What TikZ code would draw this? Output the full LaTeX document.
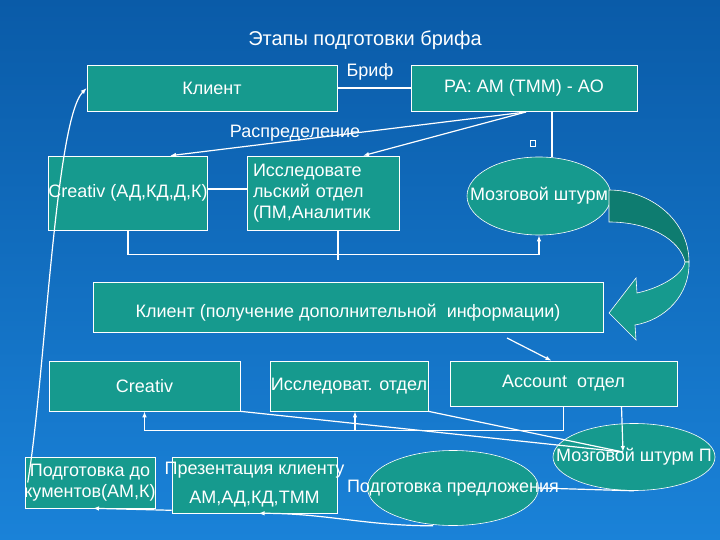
\documentclass[tikz,border=0pt]{standalone}
\usepackage{fontspec}
\setmainfont{Liberation Sans}
\usepackage{xcolor}
\usepackage{tikz}
\usetikzlibrary{arrows.meta, positioning, shapes.geometric}

\definecolor{bgtop}{RGB}{10,91,168}
\definecolor{bgbot}{RGB}{26,130,216}
\definecolor{boxteal}{RGB}{22,154,142}
\definecolor{darkteal}{RGB}{14,124,112}

\begin{document}
\begin{tikzpicture}[
    x=1pt, y=-1pt,
    every node/.style={text=white, inner sep=0pt, font=\fontsize{18}{21}\selectfont},
    tealbox/.style={draw=white, fill=boxteal, line width=0.6pt},
    oval/.style={ellipse, draw=white, fill=boxteal, line width=0.6pt},
    wire/.style={white, line width=1.2pt},
    >={Latex[length=6pt, width=4.5pt]},
]
\shade[top color=bgtop, bottom color=bgbot] (0,0) rectangle (720,540);

\node[font=\fontsize{20}{24}\selectfont] (title) at (365,40) {Этапы подготовки брифа};

\node[tealbox, minimum width=250, minimum height=46] (client) at (212,88) {Клиент};
\node[tealbox, minimum width=226, minimum height=46] (pa) at (524,88) {PA: AM (TMM) - AO};
\node (brief) at (370,72) {Бриф};
\node (distr) at (295,133) {Распределение};
\node[draw=white, line width=0.6pt, minimum width=5, minimum height=6] (mark) at (533,143) {};

\node[tealbox, minimum width=158, minimum height=74] (creat1) at (128,193) {Creativ (АД,КД,Д,К)};
\node[tealbox, minimum width=152, minimum height=74, text width=140, align=left] (research1) at (323,193)
    {Исследовате\\льский отдел\\(ПМ,Аналитик};
\node[oval, minimum width=144, minimum height=78, label=center:{Мозговой штурм}] (brain1) at (539,196) {};

\node[tealbox, minimum width=510, minimum height=50,
      label={[yshift=-6pt]center:{Клиент (получение дополнительной~ информации)}}] (client2) at (348,307) {};

\node[tealbox, minimum width=191, minimum height=50] (creat2) at (144.5,386) {Creativ};
\node[tealbox, minimum width=158, minimum height=50] (research2) at (349,386) {Исследоват. отдел};
\node[tealbox, minimum width=227, minimum height=45] (account) at (563.5,383.5) {Account~ отдел};

\node[oval, minimum width=162, minimum height=67, label=center:{Мозговой штурм П}] (brain2) at (634,457) {};
\node[oval, minimum width=171, minimum height=75, label=center:{Подготовка предложения}] (predl) at (453,488) {};
\node[tealbox, minimum width=130, minimum height=51,
      label={[align=center]center:{Подготовка до\\кументов(АМ,К)}}] (docs) at (90,482.5) {};
\node[tealbox, minimum width=165, minimum height=56,
      label={[align=center]center:{Презентация клиенту\\[8pt]АМ,АД,КД,ТММ}}] (pres) at (254.5,485) {};

% curved ribbon arrow
\filldraw[fill=darkteal, draw=white, line width=0.6pt] (609,190) .. controls (650,190) and (689,220) .. (689,262)
    -- (685,262) .. controls (680,240) and (650,222) .. (609,222) -- cycle;
\filldraw[fill=boxteal, draw=white, line width=0.6pt] (689,262) .. controls (690,295) and (665,320) .. (635,325)
    -- (636,340) -- (609,313) -- (636,278) -- (637,293)
    .. controls (660,288) and (683,275) .. (685,262) -- cycle;

\coordinate (pafoot) at (526,112);
\coordinate (c2foot) at (507,338);
\coordinate (b2in) at (623,452);
\coordinate (vline) at (552,0);
\coordinate (hline) at (0,430);

\draw[wire] (client) -- (pa);
\draw[wire, ->] (pafoot) -- ([xshift=42]creat1.north);
\draw[wire, ->] (pafoot) -- ([xshift=40]research1.north);
\draw[wire] (pa.south -| vline) -- (brain1.north -| vline);

\draw[wire] ([yshift=4]creat1.east) -- ([yshift=4]research1.west);
\draw[wire, ->] (creat1.south) -- ++(0,24) -| (brain1.south);
\draw[wire] ([xshift=15]research1.south) -- ++(0,30);

\draw[wire, ->] (c2foot) -- ([xshift=-12]account.north);

\draw[wire, ->] (account.south) -- ++(0,24) -| (creat2.south);
\draw[wire, ->] ([xshift=6]research2.south |- hline) -- ([xshift=6]research2.south);
\draw[wire] (creat2.south east) -- (b2in);
\draw[wire] (research2.south east) -- (b2in);
\draw[wire, ->] ([xshift=58]account.south) -- (b2in);

\draw[wire] (brain2.south) -- (predl.east);
\draw[wire, ->] ([xshift=-20]predl.south) to[out=180, in=0] ([xshift=4]pres.south);
\draw[wire, ->] ([yshift=3]pres.south west) -- ([xshift=3]docs.south);
\draw[wire, ->] ([xshift=3]docs.west) .. controls (45,380) and (55,120) .. (client.west);

\end{tikzpicture}
\end{document}
